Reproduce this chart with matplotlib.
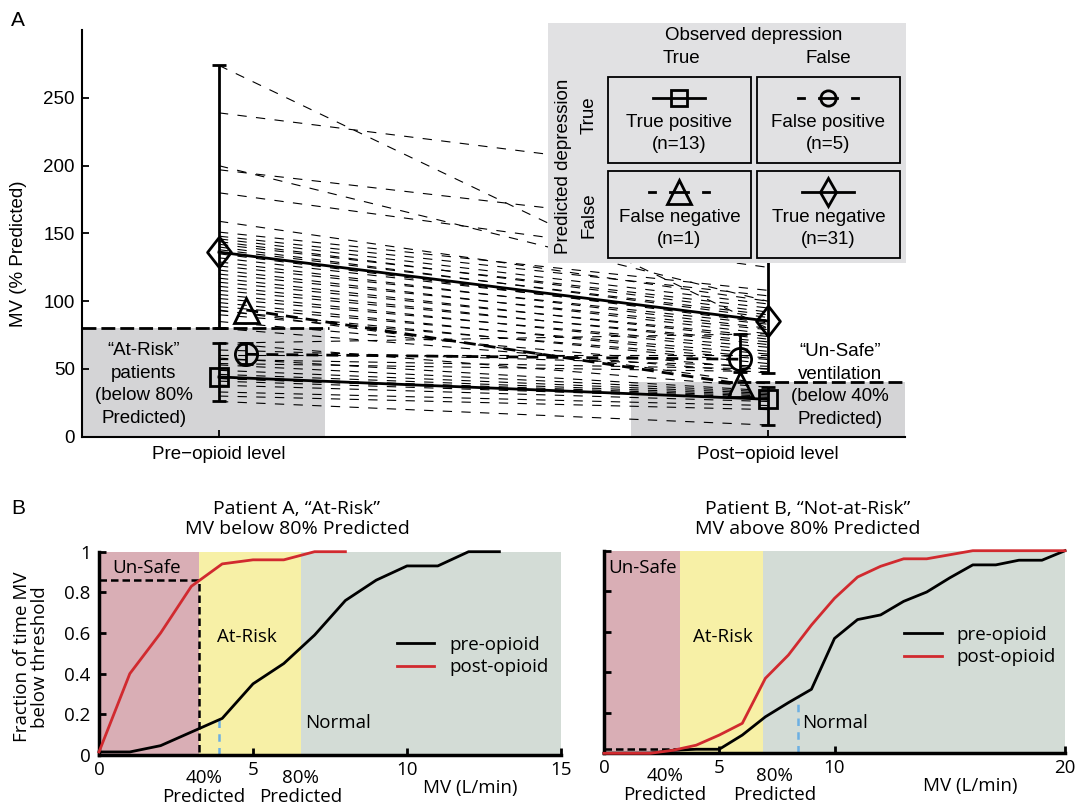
import matplotlib
matplotlib.use("Agg")
import matplotlib.pyplot as plt
import matplotlib.transforms as mtransforms
from matplotlib.patches import Rectangle
from matplotlib.path import Path
import numpy as np

# ---- Panel A: MV (% predicted) of every patient, pre and post opioid ----
tp_pre = [69, 58, 53, 49, 46, 44, 43, 43, 41, 38, 33, 30, 26]
tp_post = [36.5, 34, 33, 32, 31, 30, 29, 28, 28, 26, 23, 20, 8.6]
fp_pre = [69, 64, 60, 57, 54]
fp_post = [76, 52, 60, 50, 48]
fn_pre = [93.5]
fn_post = [38.9]
tn_pre = [274, 239, 200, 197, 180, 159, 151, 148, 146, 144, 142, 140, 138, 135, 132,
          129, 126, 123, 120, 117, 114, 111, 108, 105, 102, 99, 96, 93, 90, 85, 80]
tn_post = [80, 188, 100, 150, 125, 100, 108, 104, 98, 92, 95, 88, 90, 84, 86,
           80, 83, 76, 79, 72, 74, 68, 70, 63, 66, 58, 61, 54, 57, 50, 47]
at_risk_level = 80
unsafe_level = 40
time_points = ["Pre\u2212opioid level", "Post\u2212opioid level"]
group_names = ["True positive", "False positive", "False negative", "True negative"]

# ---- Panel B: fraction of time MV below threshold ----
mv_a_pre = list(range(14))
frac_a_pre = [0.015, 0.015, 0.046, 0.113, 0.18, 0.35, 0.45, 0.59, 0.76, 0.86, 0.93, 0.93, 1.0, 1.0]
mv_a_post = list(range(9))
frac_a_post = [0.015, 0.40, 0.60, 0.83, 0.94, 0.96, 0.96, 1.0, 1.0]
a_cut40, a_cut80 = 3.26, 6.55
a_marker = 3.9

mv_b = list(range(21))
frac_b_pre = [0, 0, 0, 0.015, 0.02, 0.02, 0.09, 0.18, 0.25, 0.316, 0.567, 0.66, 0.683,
              0.75, 0.796, 0.866, 0.93, 0.93, 0.953, 0.953, 1.0]
frac_b_post = [0, 0, 0, 0.015, 0.04, 0.09, 0.148, 0.37, 0.485, 0.633, 0.765, 0.87, 0.923,
               0.96, 0.96, 0.98, 1.0, 1.0, 1.0, 1.0, 1.0]
b_cut40, b_cut80 = 3.3, 6.9
b_marker = 8.42

GRAY = "#d4d4d6"
LEG_GRAY = "#e1e1e3"
UNSAFE = "#d9aeb5"
ATRISK = "#f7f0a6"
NORMAL = "#d3dcd6"
RED = "#d12a2f"
BLUE = "#6cb0e3"
FONT_A = "Liberation Sans"
FONT_B = "Open Sans"
FS_B = 13.5

plt.rcParams["font.family"] = FONT_A

W, H = 1078, 806
fig = plt.figure(figsize=(W / 100, H / 100), dpi=100)


def px_axes(x0, y0, x1, y1, **kw):
    return fig.add_axes([x0 / W, 1 - y1 / H, (x1 - x0) / W, (y1 - y0) / H], **kw)


DIAMOND = Path([(0, 1), (0.78, 0), (0, -1), (-0.78, 0), (0, 1)])
thick_dash = (0, (4.3, 2.9))
groups = [
    (tp_pre, tp_post, "s", 13, "-", 0.0, "s", 11),
    (fp_pre, fp_post, "o", 16, thick_dash, 0.05, "o", 11),
    (fn_pre, fn_post, "^", 18, thick_dash, 0.05, "^", 17),
    (tn_pre, tn_post, DIAMOND, 22, "-", 0.0, "d", 14),
]

# ---------------- Panel A ----------------
axA = px_axes(81.7, 30.2, 905, 436.7)
axA.set_xlim(0.75, 2.25)
axA.set_ylim(0, 300)
for s in ("top", "right"):
    axA.spines[s].set_visible(False)
for s in ("left", "bottom"):
    axA.spines[s].set_linewidth(1.5)
axA.tick_params(direction="in", length=5, width=1.3, labelsize=13.5)
axA.tick_params(axis="x", pad=7)
axA.tick_params(axis="y", pad=5)
axA.set_xticks([1, 2], time_points)
axA.set_yticks(range(0, 251, 50))
axA.set_ylabel("MV (% Predicted)", fontsize=13.5)
axA.yaxis.set_label_coords(-0.066, 0.45)

axA.add_patch(Rectangle((0.75, 0), 0.444, at_risk_level, fc=GRAY, lw=0, zorder=0))
axA.add_patch(Rectangle((1.75, 0), 0.5, unsafe_level, fc=GRAY, lw=0, zorder=0))
axA.plot([0.75, 1.2], [at_risk_level] * 2, color="k", lw=2, ls=(0, (5, 1.8)), zorder=2)
axA.plot([1.91, 2.25], [unsafe_level] * 2, color="k", lw=2, ls=(0, (5, 1.8)), zorder=2)

for pre, post, *_ in groups:
    for a, b in zip(pre, post):
        axA.plot([1, 2], [a, b], color="k", lw=0.8, ls=(0, (8.4, 8.4)), zorder=1)

for pre, post, mk, ms, ls, off, _, _ in groups:
    xs = [1 + off, 2 - off]
    means = [np.mean(pre), np.mean(post)]
    axA.plot(xs, means, color="k", lw=2, ls=ls, zorder=3)
    if len(pre) > 1:
        lo = [means[0] - min(pre), means[1] - min(post)]
        hi = [max(pre) - means[0], max(post) - means[1]]
        axA.errorbar(xs, means, yerr=[lo, hi], fmt="none", ecolor="k",
                     elinewidth=2, capsize=5, capthick=2, zorder=3)
    axA.plot(xs, means, ls="none", marker=mk, ms=ms, mfc="none", mec="k", mew=2, zorder=4)

axA.text(0.863, 38.4, "\u201cAt-Risk\u201d\npatients\n(below 80%\nPredicted)",
         ha="center", va="center", fontsize=13.5, linespacing=1.42)
axA.text(2.132, 37.7, "\u201cUn-Safe\u201d\nventilation\n(below 40%\nPredicted)",
         ha="center", va="center", fontsize=13.5, linespacing=1.42)

# legend / confusion table
leg = px_axes(548.3, 23.3, 906, 263.3, zorder=5)
leg.set_xlim(548.3, 906)
leg.set_ylim(263.3, 23.3)
leg.set_facecolor(LEG_GRAY)
leg.set_xticks([])
leg.set_yticks([])
for s in leg.spines.values():
    s.set_visible(False)
leg.text(753.3, 35, "Observed depression", ha="center", va="center", fontsize=13.5)
leg.text(681.7, 58.3, "True", ha="center", va="center", fontsize=13.5)
leg.text(828.3, 58.3, "False", ha="center", va="center", fontsize=13.5)
leg.text(563.3, 166.7, "Predicted depression", rotation=90, ha="center", va="center", fontsize=13.5)
leg.text(589.3, 115, "True", rotation=90, ha="center", va="center", fontsize=13.5)
leg.text(589.3, 215, "False", rotation=90, ha="center", va="center", fontsize=13.5)

cells = [(608.3, 76.7), (757.3, 76.7), (608.3, 171), (757.3, 171)]
cell_w, cell_h = 142.2, 86.5
for (x0, y0), name, g in zip(cells, group_names, groups):
    pre, post, mk, ms, ls, off, lmk, lms = g
    leg.add_patch(Rectangle((x0, y0), cell_w, cell_h, fc="none", ec="k", lw=1.3))
    cx = x0 + cell_w / 2
    my = y0 + 21
    if ls == "-":
        leg.plot([cx - 26, cx + 26], [my, my], color="k", lw=2)
    else:
        for a, b in ((cx - 30, cx - 24), (cx - 9, cx + 9), (cx + 24, cx + 30)):
            leg.plot([a, b], [my, my], color="k", lw=2)
    leg.plot([cx], [my], marker=lmk, ms=lms, mfc="none", mec="k", mew=2)
    leg.text(cx, y0 + 46, name, ha="center", va="center", fontsize=13.5)
    leg.text(cx, y0 + 68, f"(n={len(pre)})", ha="center", va="center", fontsize=13.5)


# ---------------- Panel B ----------------
def cdf_panel(ax, mv_pre, f_pre, mv_post, f_post, cut40, cut80, xmax, marker_mv):
    ax.set_xlim(0, xmax)
    ax.set_ylim(0, 1)
    ax.axvspan(0, cut40, color=UNSAFE, lw=0, zorder=0)
    ax.axvspan(cut40, cut80, color=ATRISK, lw=0, zorder=0)
    ax.axvspan(cut80, xmax, color=NORMAL, lw=0, zorder=0)
    ax.plot(mv_pre, f_pre, color="k", lw=2, label="pre-opioid", zorder=3, clip_on=False)
    ax.plot(mv_post, f_post, color=RED, lw=2, label="post-opioid", zorder=3, clip_on=False)
    level = np.interp(cut40, mv_post, f_post)
    ax.plot([0, cut40, cut40], [level, level, 0], color="k", lw=1.8, ls=(0, (3, 1.6)), zorder=2)
    ax.plot([marker_mv] * 2, [0, np.interp(marker_mv, mv_pre, f_pre)], color=BLUE,
            lw=1.8, ls=(0, (3, 2.5)), zorder=2)
    for s in ("top", "right"):
        ax.spines[s].set_visible(False)
    for s in ("left", "bottom"):
        ax.spines[s].set_linewidth(2.5)
    ax.tick_params(direction="in", length=5, width=2, labelsize=FS_B)
    ax.tick_params(axis="x", pad=4)
    ax.tick_params(axis="y", pad=6)
    ax.set_yticks([0, 0.2, 0.4, 0.6, 0.8, 1.0])
    tr = mtransforms.blended_transform_factory(ax.transData, ax.transAxes)
    return tr


plt.rcParams["font.family"] = FONT_B

axBL = px_axes(99, 551.7, 561, 755)
tr = cdf_panel(axBL, mv_a_pre, frac_a_pre, mv_a_post, frac_a_post, a_cut40, a_cut80, 15, a_marker)
axBL.set_xticks([0, 5, 10, 15])
axBL.set_yticklabels(["0", "0.2", "0.4", "0.6", "0.8", "1"])
axBL.set_ylabel("Fraction of time MV\nbelow threshold", fontsize=FS_B, linespacing=1.0)
axBL.yaxis.set_label_coords(-0.108, 0.483)
axBL.text(1.55, 0.918, "Un-Safe", ha="center", va="center", fontsize=FS_B)
axBL.text(4.81, 0.579, "At-Risk", ha="center", va="center", fontsize=FS_B)
axBL.text(7.76, 0.156, "Normal", ha="center", va="center", fontsize=FS_B)
axBL.text(3.4, -0.16, "40%\nPredicted", transform=tr, ha="center", va="center", fontsize=FS_B, linespacing=1.05)
axBL.text(6.55, -0.16, "80%\nPredicted", transform=tr, ha="center", va="center", fontsize=FS_B, linespacing=1.05)
axBL.text(12.06, -0.162, "MV (L/min)", transform=tr, ha="center", va="center", fontsize=FS_B)
axBL.legend(loc="center left", bbox_to_anchor=(0.645, 0.487), frameon=False, handlelength=2.0,
            handletextpad=0.8, labelspacing=0.25, borderpad=0, borderaxespad=0, fontsize=FS_B)

axBR = px_axes(604, 550.7, 1065, 753.3)
tr = cdf_panel(axBR, mv_b, frac_b_pre, mv_b, frac_b_post, b_cut40, b_cut80, 20, b_marker)
axBR.set_xticks([0, 5, 10, 20])
axBR.set_yticklabels([])
axBR.text(1.67, 0.915, "Un-Safe", ha="center", va="center", fontsize=FS_B)
axBR.text(5.15, 0.573, "At-Risk", ha="center", va="center", fontsize=FS_B)
axBR.text(10.0, 0.148, "Normal", ha="center", va="center", fontsize=FS_B)
axBR.text(2.65, -0.16, "40%\nPredicted", transform=tr, ha="center", va="center", fontsize=FS_B, linespacing=1.05)
axBR.text(7.4, -0.16, "80%\nPredicted", transform=tr, ha="center", va="center", fontsize=FS_B, linespacing=1.05)
axBR.text(15.87, -0.162, "MV (L/min)", transform=tr, ha="center", va="center", fontsize=FS_B)
axBR.legend(loc="center left", bbox_to_anchor=(0.651, 0.530), frameon=False, handlelength=2.0,
            handletextpad=0.8, labelspacing=0.25, borderpad=0, borderaxespad=0, fontsize=FS_B)

fig.text(297 / W, 1 - 519 / H, "Patient A, \u201cAt-Risk\u201d\nMV below 80% Predicted",
         ha="center", va="center", fontsize=14, linespacing=1.1)
fig.text(808 / W, 1 - 519 / H, "Patient B, \u201cNot-at-Risk\u201d\nMV above 80% Predicted",
         ha="center", va="center", fontsize=14, linespacing=1.1)

fig.text(18 / W, 1 - 20 / H, "A", ha="center", va="center", fontsize=15, family=FONT_A)
fig.text(18 / W, 1 - 508 / H, "B", ha="center", va="center", fontsize=15, family=FONT_A)

fig.savefig("out.png", dpi=100)
